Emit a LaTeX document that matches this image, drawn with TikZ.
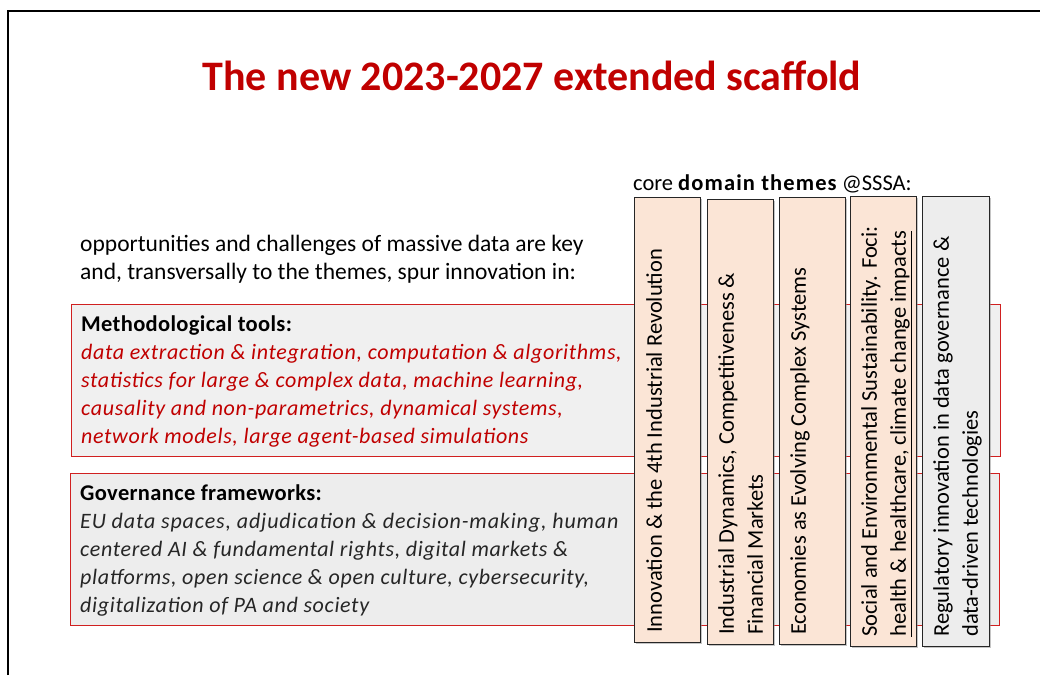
\documentclass[tikz,border=0pt]{standalone}
\usepackage{fontspec}
\setmainfont{Carlito}
\newfontfamily\spacedfont[LetterSpace=3]{Carlito}
\newfontfamily\govfont[LetterSpace=3.9]{Carlito}
\newfontfamily\headfont[LetterSpace=1.5]{Carlito}
\newfontfamily\widefont[LetterSpace=5]{Carlito}
\usepackage{xcolor}
\usetikzlibrary{positioning,shadows}

\definecolor{scafred}{HTML}{C00000}
\definecolor{panelred}{HTML}{D02020}
\definecolor{panelgrey}{HTML}{F0F0F0}
\definecolor{themepeach}{HTML}{FBE5D6}
\definecolor{themegrey}{HTML}{EDEDED}
\definecolor{govtext}{HTML}{262626}

\tikzset{
  bodytext/.style={font=\fontsize{22.5}{28}\selectfont, align=left, inner sep=0pt},
  listtext/.style={font=\fontsize{22}{28}\selectfont\spacedfont\itshape, align=left, inner sep=0pt,
    anchor=north west},
  panel/.style={draw=panelred, fill=panelgrey, line width=0.9pt, anchor=north west,
    minimum width=929pt, minimum height=152pt, inner sep=0pt},
  theme/.style={draw=black!85, fill=themepeach, line width=0.9pt, anchor=north west,
    minimum width=66pt, inner sep=0pt,
    drop shadow={shadow xshift=1.2pt, shadow yshift=-1.2pt, fill=black!45}},
  themetext/.style={bodytext, font=\fontsize{22.5}{29}\selectfont, rotate=90, anchor=north west}
}

\begin{document}
\begin{tikzpicture}[x=1pt, y=-1pt]
  \useasboundingbox (0,0) rectangle (1040,675);
  % page frame, runs off at the right and bottom
  \draw[line width=1.6pt] (8,675) -- (8,11) -- (1040,11);

  % title
  \node[font=\bfseries\fontsize{42}{46}\selectfont, text=scafred, anchor=base]
    (title) at (532,90) {The new 2023-2027 extended scaffold};

  % lead-in text
  \node[bodytext, font=\fontsize{23.5}{28}\selectfont, anchor=north west] (intro) at (80,235)
    {opportunities and challenges of massive data are key\\
     and, transversally to the themes, spur innovation in:};
  \node[bodytext, font=\fontsize{22.5}{26}\selectfont, anchor=base west] (core) at (633,190)
    {core {\widefont\bfseries domain themes} @SSSA:};

  % transversal panels
  \node[panel] (meth) at (71,304) {};
  \node[bodytext, anchor=north west] (methH) at ([xshift=10pt, yshift=-12pt]meth.north west)
    {\headfont\bfseries Methodological tools:};
  \node[listtext, text=scafred] (methT) at ([yshift=-28pt]methH.north west)
    {data extraction \& integration, computation \& algorithms,\\
     statistics for large \& complex data, machine learning,\\
     causality and non-parametrics, dynamical systems,\\
     network models, large agent-based simulations};

  \node[panel, fill=themegrey] (gov) at (70,473) {};
  \node[bodytext, anchor=north west] (govH) at ([xshift=10pt, yshift=-12pt]gov.north west)
    {\headfont\bfseries Governance frameworks:};
  \node[listtext, text=govtext] (govT) at ([yshift=-28pt]govH.north west)
    {\govfont\itshape EU data spaces, adjudication \& decision-making, human\\
     centered AI \& fundamental rights, digital markets \&\\
     platforms, open science \& open culture, cybersecurity,\\
     digitalization of PA and society};

  % core domain themes, vertical columns
  \node[theme, minimum height=445pt] (inno) at (634,197) {};
  \node[themetext] (innoT) at ([xshift=12pt, yshift=10pt]inno.south west)
    {Innovation \& the 4th Industrial Revolution};

  \node[theme, minimum height=445pt] (indy) at (707,199) {};
  \node[themetext] (indyT) at ([xshift=11pt, yshift=10pt]indy.south west)
    {Industrial Dynamics, Competitiveness \&\\Financial Markets};

  \node[theme, minimum height=447pt] (econ) at (779,197) {};
  \node[themetext] (econT) at ([xshift=11pt, yshift=10pt]econ.south west)
    {Economies as Evolving Complex Systems};

  \node[theme, minimum height=450pt] (sust) at (850,196) {};
  \node[themetext] (sustT) at ([xshift=11pt, yshift=10pt]sust.south west)
    {Social and Environmental Sustainability. Foci:\\
     \underline{health \& healthcare, climate change impacts}};

  \node[theme, fill=themegrey, minimum height=450pt, minimum width=67pt] (regu) at (922,196) {};
  \node[themetext] (reguT) at ([xshift=11pt, yshift=10pt]regu.south west)
    {Regulatory innovation in data governance \&\\data-driven technologies};
\end{tikzpicture}
\end{document}
